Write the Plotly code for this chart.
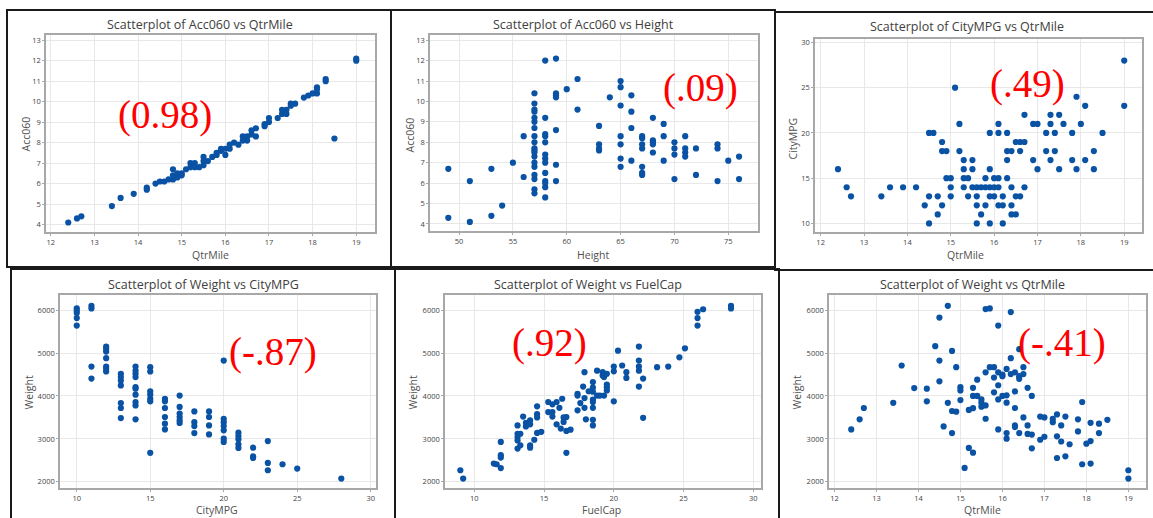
import plotly.graph_objects as go

W, H = 1153, 518

# ---------------- data ----------------
# Panel 1: Acc060 vs QtrMile
p1_qtr = [12.4, 12.6, 12.7, 13.4, 13.6, 13.9, 14.2, 14.2, 14.4, 14.5, 14.6, 14.7, 14.8, 14.8, 14.8,
          14.9, 14.9, 15.0, 15.0, 15.1, 15.2, 15.2, 15.3, 15.3, 15.4, 15.5, 15.5, 15.5, 15.6, 15.7,
          15.8, 15.8, 15.9, 15.9, 16.0, 16.0, 16.1, 16.1, 16.2, 16.3, 16.4, 16.4, 16.5, 16.5, 16.6,
          16.6, 16.7, 16.7, 16.9, 16.9, 17.0, 17.0, 17.2, 17.3, 17.3, 17.4, 17.4, 17.5, 17.5, 17.6,
          17.8, 17.9, 18.0, 18.1, 18.1, 18.1, 18.3, 18.3, 18.5, 19.0, 19.0]
p1_acc = [4.1, 4.3, 4.4, 4.9, 5.3, 5.5, 5.8, 5.7, 6.0, 6.1, 6.1, 6.2, 6.7, 6.2, 6.4,
          6.5, 6.3, 6.5, 6.4, 6.7, 7.0, 6.8, 7.0, 6.8, 6.8, 7.3, 7.1, 6.9, 7.1, 7.3,
          7.4, 7.5, 7.6, 7.7, 7.4, 7.7, 7.7, 7.9, 8.0, 7.9, 8.3, 8.1, 8.3, 8.1, 8.6,
          8.4, 8.7, 8.3, 8.8, 8.9, 9.2, 9.0, 9.2, 9.6, 9.4, 9.6, 9.4, 9.9, 9.8, 9.9,
          10.2, 10.3, 10.4, 10.7, 10.4, 10.6, 11.1, 11.0, 8.2, 12.1, 12.0]

# Panel 2: Acc060 vs Height
p2_height = [49, 49, 51, 51, 53, 53, 54, 55, 56, 56,
             57, 57, 57, 57, 57, 57, 57, 57, 57, 57, 57, 57, 57, 57, 57, 57, 57, 57, 57,
             58, 58, 58, 58, 58, 58, 58, 58, 58, 58, 58, 58, 58,
             59, 59, 59, 59, 59, 59, 59, 60, 61, 61, 63, 63, 63, 63, 64,
             65, 65, 65, 65, 65, 65, 65, 66, 66, 66, 66,
             67, 67, 67, 67, 67, 67, 67, 68, 68, 68, 68, 68, 69, 69, 69,
             70, 70, 70, 70, 71, 71, 71, 71, 72, 72, 74, 74, 74, 75, 76, 76]
p2_acc = [6.7, 4.3, 6.1, 4.1, 6.7, 4.4, 4.9, 7.0, 8.3, 6.3,
          10.4, 9.9, 9.6, 9.5, 9.2, 9.0, 8.7, 8.3, 8.0, 7.7, 7.6, 7.5, 7.3, 7.0, 6.8, 6.4, 6.2, 5.7, 5.5,
          12.0, 9.2, 8.4, 8.3, 8.0, 7.4, 7.2, 7.0, 6.5, 6.1, 6.0, 5.8, 5.3,
          12.1, 10.4, 10.3, 10.2, 8.6, 6.9, 6.1, 10.6, 11.1, 9.6, 8.8, 7.9, 7.7, 7.6, 10.2,
          11.0, 10.7, 9.8, 8.3, 7.9, 7.2, 6.8, 10.3, 9.5, 8.7, 7.1,
          8.3, 8.2, 7.9, 7.7, 6.8, 6.5, 6.4, 9.2, 8.1, 8.0, 7.9, 7.5, 8.9, 8.3, 7.1,
          8.0, 7.7, 7.4, 6.2, 8.3, 7.7, 7.5, 7.3, 7.7, 6.4, 7.9, 7.7, 6.1, 7.1, 7.3, 6.2]

# Panel 3: CityMPG vs QtrMile
p3_qtr = [12.4, 12.6, 12.7, 13.4, 13.6, 13.9, 14.2, 14.4, 14.5, 14.5, 14.5, 14.6, 14.7, 14.7,
          14.8, 14.8, 14.8, 14.9, 14.9, 15.0, 15.0, 15.0, 15.1, 15.2, 15.2,
          15.3, 15.3, 15.3, 15.3, 15.4, 15.4, 15.5, 15.5, 15.5, 15.6, 15.6, 15.6, 15.6,
          15.7, 15.7, 15.8, 15.8, 15.8, 15.9, 15.9, 15.9, 15.9, 15.9, 16.0, 16.0, 16.0,
          16.1, 16.1, 16.1, 16.1, 16.1, 16.2, 16.2, 16.2, 16.3, 16.3, 16.3, 16.3,
          16.4, 16.4, 16.4, 16.4, 16.5, 16.5, 16.5, 16.6, 16.6, 16.6, 16.7, 16.7, 16.7,
          16.9, 16.9, 17.0, 17.0, 17.2, 17.2, 17.3, 17.3, 17.3, 17.4, 17.4, 17.5, 17.5, 17.6,
          17.8, 17.8, 17.9, 17.9, 18.0, 18.1, 18.1, 18.3, 18.3, 18.5, 19.0, 19.0]
p3_mpg = [16, 14, 13, 13, 14, 14, 14, 12, 20, 13, 10, 20, 13, 11,
          19, 18, 12, 18, 15, 15, 14, 13, 25, 21, 18,
          17, 16, 15, 14, 15, 13, 17, 16, 14, 14, 13, 12, 10,
          14, 11, 15, 14, 12, 20, 16, 14, 13, 10, 15, 14, 13,
          21, 20, 15, 14, 12, 13, 12, 10, 20, 18, 17, 15,
          18, 14, 12, 11, 19, 13, 11, 19, 18, 13, 22, 19, 14,
          21, 17, 21, 16, 20, 18, 22, 21, 17, 20, 18, 22, 16, 21,
          20, 17, 24, 16, 21, 23, 17, 18, 16, 20, 28, 23]

# Panel 4: Weight vs CityMPG
p4_mpg = [10, 10, 10, 10, 10, 11, 11, 11, 11,
          12, 12, 12, 12, 12, 12, 12, 13, 13, 13, 13, 13, 13, 13,
          14, 14, 14, 14, 14, 14, 14, 14, 14, 14, 15, 15, 15, 15, 15, 15, 15,
          16, 16, 16, 16, 16, 16, 17, 17, 17, 17, 17, 17, 18, 18, 18, 18,
          19, 19, 19, 19, 20, 20, 20, 20, 20, 20, 20, 21, 21, 21, 21, 21,
          22, 22, 22, 23, 23, 23, 24, 25, 28]
p4_weight = [6040, 5985, 5930, 5815, 5640, 6100, 6040, 4685, 4405,
             5150, 5095, 5035, 4880, 4685, 4630, 4570, 4515, 4440, 4360, 4245, 3835, 3720, 3485,
             4685, 4590, 4515, 4440, 4205, 4170, 4030, 3860, 3780, 3455, 4670, 4570, 4105, 4030, 3935, 3875, 2675,
             3935, 3875, 3720, 3510, 3355, 3220, 4010, 3745, 3590, 3510, 3430, 3370, 3640, 3390, 3300, 3135,
             3640, 3510, 3315, 3105, 4825, 3470, 3390, 3300, 3200, 3005, 2930, 3145, 3065, 2990, 2875, 2790,
             2795, 2595, 2555, 2950, 2440, 2270, 2410, 2310, 2075]

# Panel 5: Weight vs FuelCap
p5_fuel = [9.0, 9.2, 11.4, 11.6, 11.9, 11.9, 11.9, 11.9, 13.1, 13.1, 13.1, 13.1, 13.1, 13.3, 13.3,
           13.5, 13.7, 13.7, 14.0, 14.0, 14.0, 14.0, 14.3, 14.5, 14.5, 14.5, 14.5, 14.8,
           15.3, 15.3, 15.6, 15.6, 15.6, 15.9, 15.9, 16.1, 16.2, 16.3, 16.4, 16.4, 16.6, 16.6, 16.6,
           16.9, 17.4, 17.4, 17.4, 17.6, 17.8, 17.9, 17.9, 17.9, 18.0, 18.2,
           18.5, 18.5, 18.5, 18.5, 18.5, 18.5, 18.5, 18.5, 18.8, 18.8, 19.0, 19.2, 19.2, 19.3, 19.3,
           19.5, 19.5, 19.5, 19.5, 20.0, 20.0, 20.0, 20.3, 20.6, 20.9, 20.9,
           21.8, 21.8, 21.8, 21.8, 21.8, 22.1, 22.1, 23.1, 23.9, 24.7, 25.1, 26.0, 26.0, 26.0, 26.4, 28.4, 28.4]
p5_weight = [2270, 2075, 2425, 2410, 2930, 2620, 2565, 2320, 3315, 3120, 3045, 2965, 2775, 3120, 2850,
             3520, 3375, 3290, 3430, 3340, 2850, 2795, 2980, 3760, 3575, 3500, 3140, 3165,
             3860, 3625, 3805, 3625, 3520, 3860, 3340, 3725, 3240, 3935, 3500, 3395, 3510, 2675, 3185,
             3215, 4050, 4010, 3665, 3835, 4220, 4555, 3950, 3725, 3455, 4110,
             4325, 4195, 4100, 3915, 3860, 3725, 3445, 3315, 4590, 4010, 4010, 4555, 4475, 4010, 4440,
             4515, 4265, 4205, 4130, 4685, 4575, 3875, 5055, 4710, 4555, 4420,
             5150, 4825, 4685, 4590, 4220, 4405, 3490, 4670, 4685, 4900, 5110, 5960, 5815, 5640, 6020, 6100, 6040]

# Panel 6: Weight vs QtrMile
p6_qtr = [12.4, 12.6, 12.7, 13.4, 13.6, 13.9, 14.2, 14.2, 14.4, 14.5, 14.5, 14.5, 14.6, 14.7, 14.7,
          14.8, 14.8, 14.8, 14.9, 14.9, 15.0, 15.0, 15.0, 15.1, 15.2, 15.2, 15.3, 15.3, 15.3, 15.3,
          15.4, 15.4, 15.5, 15.5, 15.5, 15.6, 15.6, 15.6, 15.6, 15.7, 15.7, 15.8, 15.8, 15.8,
          15.9, 15.9, 15.9, 15.9, 15.9, 16.0, 16.0, 16.0, 16.1, 16.1, 16.1, 16.1, 16.1,
          16.2, 16.2, 16.2, 16.3, 16.3, 16.3, 16.3, 16.3, 16.4, 16.4, 16.4, 16.4, 16.5, 16.5, 16.5,
          16.6, 16.6, 16.6, 16.7, 16.7, 16.7, 16.9, 16.9, 17.0, 17.0, 17.2, 17.2, 17.3, 17.3, 17.3,
          17.4, 17.4, 17.5, 17.5, 17.6, 17.8, 17.8, 17.9, 17.9, 18.0, 18.1, 18.1, 18.1, 18.3, 18.3,
          18.5, 19.0, 19.0]
p6_weight = [3220, 3455, 3720, 3840, 4710, 4185, 4170, 3875, 5160, 5825, 4825, 4340, 3290, 6100, 3840,
             5050, 3650, 3135, 4670, 3635, 4205, 4130, 3905, 2325, 3675, 2790, 4190, 4000, 3715, 2680,
             4380, 4000, 3920, 3845, 3750, 6025, 4550, 3780, 3470, 6040, 4670, 4670, 4430, 4085,
             5640, 4550, 4250, 3920, 3220, 4500, 4460, 4000, 4630, 4015, 3845, 3135, 3005,
             5955, 4880, 4510, 4550, 4105, 3720, 3315, 3275, 5090, 4460, 4400, 3135, 4670, 4510, 3500,
             4190, 3315, 3115, 4000, 3100, 2780, 3520, 2980, 3500, 3050, 3465, 3390, 3570, 3060, 2555,
             3315, 2940, 3520, 2595, 2875, 3455, 3175, 3860, 2410, 2890, 3375, 2950, 2425, 3355, 3135,
             3445, 2270, 2075]

titles = ["Scatterplot of Acc060 vs QtrMile", "Scatterplot of Acc060 vs Height",
          "Scatterplot of CityMPG vs QtrMile", "Scatterplot of Weight vs CityMPG",
          "Scatterplot of Weight vs FuelCap", "Scatterplot of Weight vs QtrMile"]
xlabels = ["QtrMile", "Height", "QtrMile", "CityMPG", "FuelCap", "QtrMile"]
ylabels = ["Acc060", "Acc060", "CityMPG", "Weight", "Weight", "Weight"]
corr_labels = ["(0.98)", "(.09)", "(.49)", "(-.87)", "(.92)", "(-.41)"]

xs = [p1_qtr, p2_height, p3_qtr, p4_mpg, p5_fuel, p6_qtr]
ys = [p1_acc, p2_acc, p3_mpg, p4_weight, p5_weight, p6_weight]

# ---------------- layout geometry (pixels) ----------------
def px(x):
    return x / W

def py(y):
    return 1 - y / H

plot_boxes = [(46, 375, 33, 231), (430, 758, 33, 230), (815, 1142, 37, 231),
              (60, 376, 294, 488), (445, 761, 294, 488), (829, 1146, 294, 488)]
x_ranges = [[11.89, 19.43], [47.3, 77.76], [11.87, 19.41],
            [8.86, 30.36], [7.9, 30.55], [11.87, 19.42]]
y_ranges = [[3.63, 13.26], [3.65, 13.26], [9.04, 30.4],
            [1854, 6355], [1854, 6355], [1854, 6355]]
x_ticks = [[12, 13, 14, 15, 16, 17, 18, 19], [50, 55, 60, 65, 70, 75],
           [12, 13, 14, 15, 16, 17, 18, 19], [10, 15, 20, 25, 30],
           [10, 15, 20, 25, 30], [12, 13, 14, 15, 16, 17, 18, 19]]
y_ticks = [list(range(4, 14)), list(range(4, 14)), [10, 15, 20, 25, 30],
           [2000, 3000, 4000, 5000, 6000], [2000, 3000, 4000, 5000, 6000],
           [2000, 3000, 4000, 5000, 6000]]
title_pos = [(200, 23), (583, 23), (967, 25), (203, 284), (588, 284), (972, 284)]
xlabel_pos = [(210, 254), (593, 254), (965, 254), (217, 510), (601, 510), (982, 510)]
ylabel_pos = [(26, 133), (410, 133), (793, 137), (29, 392), (413, 392), (797, 392)]
corr_pos = [(165, 113), (700, 86), (1027, 82), (273, 351), (549, 342), (1062, 342)]
frames = [(7, 391, 8, 266), (391, 775, 8, 266), (775, 1156, 10, 269),
          (11, 395, 268, 520), (395, 779, 268, 520), (779, 1156, 269, 520)]

fig = go.Figure()
layout = dict(width=W, height=H, margin=dict(l=0, r=0, t=0, b=0),
              paper_bgcolor="white", plot_bgcolor="white", showlegend=False)
annotations = []
shapes = []

for i in range(6):
    n = "" if i == 0 else str(i + 1)
    fig.add_trace(go.Scatter(x=xs[i], y=ys[i], mode="markers", xaxis="x" + n, yaxis="y" + n,
                             marker=dict(color="#0a52a3", size=6.2, line=dict(width=0)),
                             hoverinfo="x+y"))
    l, r, t, b = plot_boxes[i]
    ax_common = dict(showline=True, mirror=True, linecolor="#a8a8a8", linewidth=1.5,
                     showgrid=True, gridcolor="#e8e8e8", gridwidth=1, zeroline=False,
                     ticks="outside", ticklen=2, tickcolor="#a8a8a8",
                     tickfont=dict(family="Open Sans, sans-serif", size=7.5, color="#444444"))
    layout["xaxis" + n] = dict(ax_common, domain=[px(l), px(r)], range=x_ranges[i],
                               tickvals=x_ticks[i], anchor="y" + n)
    layout["yaxis" + n] = dict(ax_common, domain=[py(b), py(t)], range=y_ranges[i],
                               tickvals=y_ticks[i], anchor="x" + n)
    tx, ty = title_pos[i]
    annotations.append(dict(x=px(tx), y=py(ty), xref="paper", yref="paper", text=titles[i],
                            showarrow=False, xanchor="center", yanchor="middle",
                            font=dict(family="Open Sans, sans-serif", size=12.5, color="#404040")))
    lx, ly = xlabel_pos[i]
    annotations.append(dict(x=px(lx), y=py(ly), xref="paper", yref="paper", text=xlabels[i],
                            showarrow=False, xanchor="center", yanchor="middle",
                            font=dict(family="Open Sans, sans-serif", size=10.5, color="#505050")))
    vx, vy = ylabel_pos[i]
    annotations.append(dict(x=px(vx), y=py(vy), xref="paper", yref="paper", text=ylabels[i],
                            showarrow=False, xanchor="center", yanchor="middle", textangle=-90,
                            font=dict(family="Open Sans, sans-serif", size=10.5, color="#505050")))
    cx, cy = corr_pos[i]
    annotations.append(dict(x=px(cx), y=py(cy), xref="paper", yref="paper", text=corr_labels[i],
                            showarrow=False, xanchor="center", yanchor="middle",
                            font=dict(family="Liberation Serif, Times New Roman, serif", size=39,
                                      color="#ff0000")))
    fl, fr, ft, fb = frames[i]
    shapes.append(dict(type="rect", xref="paper", yref="paper", x0=px(fl), x1=px(fr),
                       y0=py(fb), y1=py(ft), line=dict(color="#1a1a1a", width=2),
                       fillcolor="rgba(0,0,0,0)", layer="above"))

layout["annotations"] = annotations
layout["shapes"] = shapes
fig.update_layout(**layout)
fig.write_html("out.html")
